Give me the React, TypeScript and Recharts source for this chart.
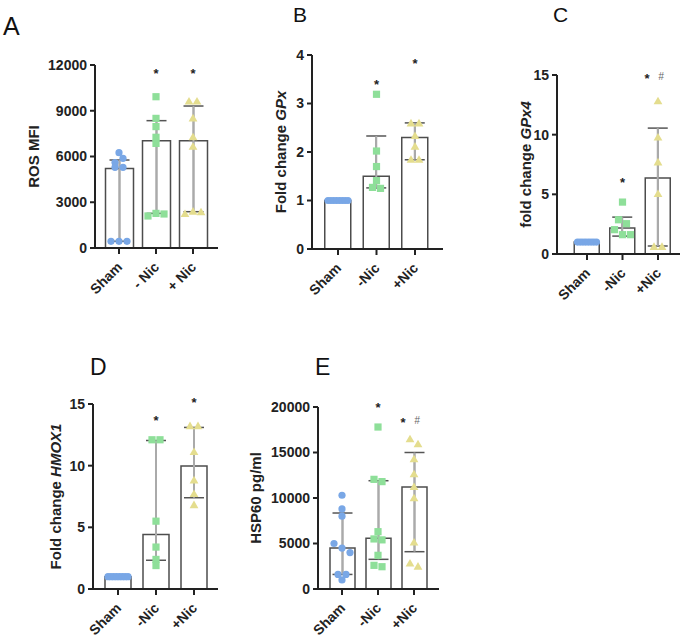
import React from "react";
import { Bar, ComposedChart, ErrorBar, Line, ReferenceDot, XAxis, YAxis } from "recharts";

const FONT = "'Liberation Sans', Arial, sans-serif";
const INK = "#222";

const catsA = ["Sham", "- Nic", "+ Nic"];
const cats = ["Sham", "-Nic", "+Nic"];

// A - ROS MFI
const rosMean = [5220, 7040, 7040];
const rosLow = [440, 2270, 2380];
const rosHigh = [5770, 8350, 9310];
const rosSham = [6250, 5600, 5880, 5290, 5290, 440, 440, 440];
const rosMinus = [9920, 8500, 7960, 7260, 6860, 2100, 2270, 2230];
const rosPlus = [9600, 9600, 8500, 7260, 6640, 2230, 2380, 2340];
const rosTicks = [0, 3000, 6000, 9000, 12000];
const rosSig = [null, 11600, 11600];
const rosMarks = ["", "*", "*"];

// B - GPx
const gpxMean = [1.0, 1.5, 2.3];
const gpxLow = [1.0, 1.26, 1.84];
const gpxHigh = [1.0, 2.33, 2.6];
const gpxSham = [1, 1, 1, 1, 1, 1, 1, 1];
const gpxMinus = [3.19, 2.02, 1.7, 1.41, 1.27, 1.25];
const gpxPlus = [2.59, 2.59, 2.33, 2.11, 1.84, 1.84];
const gpxTicks = [0, 1, 2, 3, 4];
const gpxSig = [null, 3.45, 3.88];
const gpxMarks = ["", "*", "*"];

// C - GPx4
const gpx4Mean = [1.0, 2.17, 6.36];
const gpx4Low = [1.0, 1.5, 0.67];
const gpx4High = [1.0, 3.09, 10.55];
const gpx4Sham = [1, 1, 1, 1, 1, 1, 1, 1];
const gpx4Minus = [4.35, 2.87, 2.54, 2.04, 1.62, 1.62];
const gpx4Plus = [12.8, 9.76, 7.67, 5.02, 0.59, 0.59];
const gpx4Ticks = [0, 5, 10, 15];
const gpx4Sig = [null, 6.2, 14.9];
const gpx4Marks = ["", "*", "* #"];

// D - HMOX1
const hmoxMean = [1.0, 4.42, 9.98];
const hmoxLow = [1.0, 2.33, 7.4];
const hmoxHigh = [1.0, 12.04, 13.1];
const hmoxSham = [1, 1, 1, 1, 1, 1, 1, 1];
const hmoxMinus = [12.1, 12.1, 5.5, 3.4, 2.4, 1.9];
const hmoxPlus = [13.2, 13.2, 11.1, 8.8, 7.7, 6.8];
const hmoxTicks = [0, 5, 10, 15];
const hmoxSig = [null, 13.9, 15.3];
const hmoxMarks = ["", "*", "*"];

// E - HSP60
const hspMean = [4500, 5570, 11200];
const hspLow = [1600, 3260, 4100];
const hspHigh = [8350, 11900, 15000];
const hspSham = [10300, 8800, 8000, 5000, 4500, 4000, 1600, 1600, 1000];
const hspMinus = [17800, 12050, 11800, 6300, 5500, 5400, 3700, 2600, 2450];
const hspPlus = [16450, 15900, 14250, 12600, 11200, 9970, 5100, 2800, 2450];
const hspTicks = [0, 5000, 10000, 15000, 20000];
const hspSig = [null, 20250, 18570];
const hspMarks = ["", "*", "* #"];

const COLORS = ["#79a7e6", "#8edf99", "#e4dd8e"];

type Part = { t: string; i?: boolean };

// spread points of similar value into horizontal rows
function rowOffsets(values: number[], thr: number, step: number, cap: number) {
  const rows: number[][] = [];
  values.forEach((v, i) => {
    const last = rows[rows.length - 1];
    if (last && Math.abs(values[last[last.length - 1]] - v) < thr) last.push(i);
    else rows.push([i]);
  });
  const out = new Array(values.length).fill(0);
  rows.forEach((r) => {
    const n = r.length;
    const spread = ((n - 1) / 2) * step;
    const k = spread > cap ? cap / spread : 1;
    r.forEach((idx, j) => {
      out[idx] = (j - (n - 1) / 2) * step * k;
    });
  });
  return out;
}

function Marker({ kind, x, y }: { kind: number; x: number; y: number }) {
  if (kind === 0) return <circle cx={x} cy={y} r={3.6} fill={COLORS[0]} />;
  if (kind === 1) return <rect x={x - 3.6} y={y - 3.6} width={7.2} height={7.2} fill={COLORS[1]} />;
  return <polygon points={`${x},${y - 4.6} ${x - 4.4},${y + 3} ${x + 4.4},${y + 3}`} fill={COLORS[2]} />;
}

const XTick = (props: any) => {
  const { x, y, payload } = props;
  const ax = x + 4;
  const ay = y + 12;
  return (
    <text
      x={ax}
      y={ay}
      transform={`rotate(-45 ${ax} ${ay})`}
      textAnchor="end"
      fill={INK}
      style={{ fontFamily: FONT, fontWeight: 700, fontSize: 14 }}
    >
      {payload.value}
    </text>
  );
};

function SigMark({ cx, cy, mark }: { cx: number; cy: number; mark: string }) {
  const hasHash = mark.includes("#");
  const sx = hasHash ? cx - 11 : cx;
  return (
    <g>
      <text x={sx} y={cy + 7} textAnchor="middle" fill={INK} style={{ fontFamily: FONT, fontWeight: 700, fontSize: 13 }}>
        *
      </text>
      {hasHash && (
        <text x={cx + 3} y={cy + 4} textAnchor="middle" fill="#666" style={{ fontFamily: FONT, fontStyle: "italic", fontSize: 10 }}>
          #
        </text>
      )}
    </g>
  );
}

type PanelProps = {
  groups: string[];
  mean: number[];
  low: number[];
  high: number[];
  pts: number[][];
  ticks: number[];
  sig: (number | null)[];
  marks: string[];
  label: Part[];
  px: number;
  py: number;
  pw: number;
  ph: number;
  padL: number;
  padR: number;
  barSize: number;
  labelOff: number;
};

function Panel(p: PanelProps) {
  const max = p.ticks[p.ticks.length - 1];
  const rows = p.groups.map((g, i) => {
    const row: any = { group: g, gi: i, mean: p.mean[i], err: [p.mean[i] - p.low[i], p.high[i] - p.mean[i]] };
    p.pts[i].forEach((v, k) => {
      row["p" + k] = v;
    });
    return row;
  });
  const offsets = p.pts.map((vals) => rowOffsets(vals, max * 0.03, 8, p.barSize / 2 - 3));
  const nMax = Math.max(...p.pts.map((a) => a.length));
  const keys = Array.from({ length: nMax }, (_, k) => k);

  const makeDot = (k: number) => (props: any) => {
    const { cx, cy, payload, index } = props;
    if (cy == null || payload == null || payload["p" + k] == null) return <g key={`e${k}-${index}`} />;
    return (
      <g key={`d${k}-${index}`}>
        <Marker kind={payload.gi} x={cx + offsets[payload.gi][k]} y={cy} />
      </g>
    );
  };

  const yLabel = (props: any) => {
    const vb = props.viewBox || {};
    const x = (vb.x ?? 0) + (vb.width ?? 90) - p.labelOff;
    const y = (vb.y ?? 30) + (vb.height ?? p.ph) / 2;
    return (
      <text
        x={x}
        y={y}
        transform={`rotate(-90 ${x} ${y})`}
        textAnchor="middle"
        dominantBaseline="central"
        fill={INK}
        style={{ fontFamily: FONT, fontWeight: 700, fontSize: 15 }}
      >
        {p.label.map((part, j) => (
          <tspan key={j} fontStyle={part.i ? "italic" : "normal"}>
            {part.t}
          </tspan>
        ))}
      </text>
    );
  };

  return (
    <div style={{ position: "absolute", left: p.px - 90, top: p.py - 30 }}>
      <ComposedChart
        width={p.pw + 95}
        height={p.ph + 110}
        data={rows}
        margin={{ top: 30, right: 5, bottom: 0, left: 0 }}
      >
        <XAxis
          dataKey="group"
          type="category"
          interval={0}
          padding={{ left: p.padL, right: p.padR }}
          height={80}
          tickSize={6}
          tickMargin={2}
          axisLine={{ stroke: INK, strokeWidth: 2 }}
          tickLine={{ stroke: INK, strokeWidth: 2 }}
          tick={<XTick />}
        />
        <YAxis
          type="number"
          domain={[0, max]}
          ticks={p.ticks}
          interval={0}
          width={90}
          tickSize={5}
          tickMargin={3}
          axisLine={{ stroke: INK, strokeWidth: 2 }}
          tickLine={{ stroke: INK, strokeWidth: 2 }}
          tick={{ fill: INK, fontFamily: FONT, fontWeight: 700, fontSize: 14 }}
          label={yLabel}
        />
        <Bar dataKey="mean" barSize={p.barSize} fill="#fff" stroke="#4d4d4d" strokeWidth={1.5} isAnimationActive={false}>
          <ErrorBar dataKey="err" width={10} stroke="#555" strokeWidth={1.5} isAnimationActive={false} />
          <ErrorBar dataKey="err" width={0} stroke="#aaa" strokeWidth={2} isAnimationActive={false} />
        </Bar>
        {keys.map((k) => (
          <Line
            key={"p" + k}
            dataKey={"p" + k}
            stroke="none"
            dot={makeDot(k)}
            activeDot={false}
            isAnimationActive={false}
            legendType="none"
          />
        ))}
        {p.groups.map((g, i) =>
          p.sig[i] == null ? null : (
            <ReferenceDot
              key={"s" + i}
              x={g}
              y={p.sig[i] as number}
              r={0}
              ifOverflow="visible"
              shape={(sp: any) => <SigMark cx={sp.cx} cy={sp.cy} mark={p.marks[i]} />}
            />
          )
        )}
      </ComposedChart>
    </div>
  );
}

const letterStyle = { fontFamily: FONT, fill: "#111" };

export default function App() {
  return (
    <div style={{ position: "absolute", left: 0, top: 0, width: 685, height: 640, overflow: "hidden", background: "#fff" }}>
      <Panel
        groups={catsA}
        mean={rosMean}
        low={rosLow}
        high={rosHigh}
        pts={[rosSham, rosMinus, rosPlus]}
        ticks={rosTicks}
        sig={rosSig}
        marks={rosMarks}
        label={[{ t: "ROS MFI" }]}
        px={95}
        py={65}
        pw={123}
        ph={183}
        padL={5.5}
        padR={6.5}
        barSize={28}
        labelOff={62}
      />
      <Panel
        groups={cats}
        mean={gpxMean}
        low={gpxLow}
        high={gpxHigh}
        pts={[gpxSham, gpxMinus, gpxPlus]}
        ticks={gpxTicks}
        sig={gpxSig}
        marks={gpxMarks}
        label={[{ t: "Fold change " }, { t: "GPx", i: true }]}
        px={312}
        py={55}
        pw={131}
        ph={194}
        padL={6.75}
        padR={8.75}
        barSize={26}
        labelOff={32}
      />
      <Panel
        groups={cats}
        mean={gpx4Mean}
        low={gpx4Low}
        high={gpx4High}
        pts={[gpx4Sham, gpx4Minus, gpx4Plus]}
        ticks={gpx4Ticks}
        sig={gpx4Sig}
        marks={gpx4Marks}
        label={[{ t: "fold change " }, { t: "GPx4", i: true }]}
        px={557}
        py={75}
        pw={123}
        ph={179}
        padL={12.25}
        padR={4.25}
        barSize={25}
        labelOff={32}
      />
      <Panel
        groups={cats}
        mean={hmoxMean}
        low={hmoxLow}
        high={hmoxHigh}
        pts={[hmoxSham, hmoxMinus, hmoxPlus]}
        ticks={hmoxTicks}
        sig={hmoxSig}
        marks={hmoxMarks}
        label={[{ t: "Fold change " }, { t: "HMOX1", i: true }]}
        px={93}
        py={404}
        pw={125}
        ph={185}
        padL={6}
        padR={5}
        barSize={26}
        labelOff={38}
      />
      <Panel
        groups={cats}
        mean={hspMean}
        low={hspLow}
        high={hspHigh}
        pts={[hspSham, hspMinus, hspPlus]}
        ticks={hspTicks}
        sig={hspSig}
        marks={hspMarks}
        label={[{ t: "HSP60 pg/ml" }]}
        px={318}
        py={407}
        pw={121}
        ph={182}
        padL={6}
        padR={7}
        barSize={25}
        labelOff={63}
      />
      <svg width={685} height={640} style={{ position: "absolute", left: 0, top: 0, pointerEvents: "none" }}>
        <text x={3} y={35} style={{ ...letterStyle, fontSize: 25 }}>A</text>
        <text x={293} y={22} style={{ ...letterStyle, fontSize: 21 }}>B</text>
        <text x={553} y={22} style={{ ...letterStyle, fontSize: 21 }}>C</text>
        <text x={90} y={375} style={{ ...letterStyle, fontSize: 23 }}>D</text>
        <text x={315} y={375} style={{ ...letterStyle, fontSize: 23 }}>E</text>
      </svg>
    </div>
  );
}
